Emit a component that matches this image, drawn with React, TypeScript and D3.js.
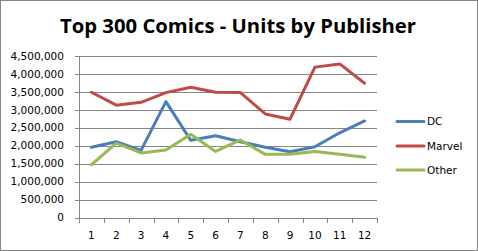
import React from "react";
import * as d3 from "d3";

const months = [1, 2, 3, 4, 5, 6, 7, 8, 9, 10, 11, 12];
const dc = [1955000, 2110000, 1870000, 3230000, 2150000, 2280000, 2110000, 1955000, 1830000, 1970000, 2360000, 2690000];
const marvel = [3490000, 3130000, 3210000, 3480000, 3630000, 3490000, 3480000, 2885000, 2740000, 4190000, 4280000, 3740000];
const other = [1470000, 2070000, 1800000, 1880000, 2320000, 1840000, 2160000, 1760000, 1760000, 1840000, 1760000, 1680000];
const yTicks = [0, 500000, 1000000, 1500000, 2000000, 2500000, 3000000, 3500000, 4000000, 4500000];
const seriesNames = ["DC", "Marvel", "Other"];
const seriesColors = ["#4A7EBB", "#BE4B48", "#98B954"];

const W = 478;
const H = 251;
const left = 79;
const right = 377;
const top = 56;
const bottom = 217.5;

export default function App() {
  const x = d3.scaleBand<number>().domain(months).range([left, right]);
  const y = d3.scaleLinear().domain([0, 4500000]).range([bottom, top]);
  const line = d3
    .line<number>()
    .x((_, i) => (x(months[i]) as number) + x.bandwidth() / 2)
    .y((d) => y(d));
  const data = [dc, marvel, other];
  const fmt = d3.format(",");
  const legendY = [121.5, 146, 170];
  const bounds = [...months.map((m) => x(m) as number), right];
  return (
    <svg width={W} height={H} style={{ position: "absolute", left: 0, top: 0 }}>
      <rect x={0} y={0} width={W} height={H} fill="#fff" />
      <rect x={0.5} y={0.5} width={W - 1} height={H - 1} fill="none" stroke="#868686" strokeWidth={1} />
      <text x={238} y={33} textAnchor="middle" fontFamily="Open Sans" fontWeight="bold" fontSize={20.3} fill="#000">
        Top 300 Comics - Units by Publisher
      </text>
      {yTicks.map((t) => (
        <g key={t}>
          {t > 0 && (
            <line x1={left - 4} x2={right} y1={Math.round(y(t)) + 0.5} y2={Math.round(y(t)) + 0.5} stroke="#868686" />
          )}
          {t === 0 && <line x1={left - 4} x2={left} y1={Math.round(y(t)) + 0.5} y2={Math.round(y(t)) + 0.5} stroke="#868686" />}
          <text x={64} y={y(t)} dy="0.35em" textAnchor="end" fontFamily="DejaVu Sans" fontSize={10.5} fill="#000">
            {fmt(t)}
          </text>
        </g>
      ))}
      <line x1={left + 0.5} x2={left + 0.5} y1={top} y2={Math.round(bottom) + 0.5} stroke="#868686" />
      <line x1={left} x2={right} y1={Math.round(bottom) + 0.5} y2={Math.round(bottom) + 0.5} stroke="#868686" />
      {bounds.map((b, i) => (
        <line key={i} x1={Math.round(b) + 0.5} x2={Math.round(b) + 0.5} y1={Math.round(bottom)} y2={Math.round(bottom) + 5} stroke="#868686" />
      ))}
      {months.map((m) => (
        <text key={m} x={(x(m) as number) + x.bandwidth() / 2} y={238.5} textAnchor="middle" fontFamily="DejaVu Sans" fontSize={10.5} fill="#000">
          {m}
        </text>
      ))}
      {data.map((d, i) => (
        <path key={i} d={line(d) as string} fill="none" stroke={seriesColors[i]} strokeWidth={3} strokeLinejoin="round" strokeLinecap="round" />
      ))}
      {seriesNames.map((n, i) => (
        <g key={n}>
          <line x1={397} x2={424} y1={legendY[i]} y2={legendY[i]} stroke={seriesColors[i]} strokeWidth={3} strokeLinecap="round" />
          <text x={427} y={legendY[i]} dy="0.35em" fontFamily="DejaVu Sans" fontSize={10.5} fill="#000">
            {n}
          </text>
        </g>
      ))}
    </svg>
  );
}
